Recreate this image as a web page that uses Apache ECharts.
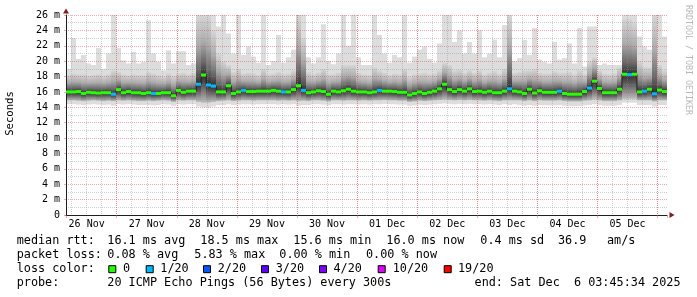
<!DOCTYPE html>
<html><head><meta charset="utf-8">
<script src="https://cdn.jsdelivr.net/npm/echarts@6/dist/echarts.min.js"></script>
<style>html,body{margin:0;padding:0;background:#fff}#c{width:697px;height:297px}</style>
</head><body><div id="c"></div>
<script>
// ---- data (2-hour buckets from 26 Nov 03:45 to 6 Dec 03:45), values in ms ----
const dayLabels = ['26 Nov','27 Nov','28 Nov','29 Nov','30 Nov','01 Dec','02 Dec','03 Dec','04 Dec','05 Dec'];
const startHour = 3.75;   // hours after 26 Nov 00:00
const bucketHours = 2;

const median = [
 16.0,16.0,16.05,15.8,15.95,15.9,15.85,15.9,15.9,15.7,
 16.3,15.9,16.05,15.9,15.9,15.8,15.9,15.8,15.8,15.9,
 15.9,15.5,16.2,15.95,16.1,16.1,17.0,18.2,16.9,16.75,
 16.0,16.0,16.8,15.8,16.0,16.2,16.05,16.05,16.1,16.1,
 16.1,16.2,16.1,16.0,16.0,16.3,16.8,16.2,15.9,16.0,
 16.15,16.05,15.7,16.1,16.0,16.15,16.35,16.1,16.0,16.0,
 15.9,16.0,16.2,16.1,16.1,16.05,15.95,15.95,15.6,15.8,
 16.0,15.8,15.95,16.1,16.4,17.0,16.3,16.05,16.3,16.1,
 16.4,16.05,16.1,15.95,16.1,15.9,15.9,16.1,16.4,16.1,
 16.0,15.8,16.35,15.85,16.15,15.95,15.95,15.95,16.1,15.8,
 15.7,15.7,15.7,16.05,16.5,17.4,16.45,15.9,15.9,15.9,
 16.35,18.3,18.25,18.3,16.0,16.1,16.35,15.75,16.25,16.05];
const loss = [ // lost pings out of 20
 0,0,0,0,0,0,0,0,0,1, 0,0,0,0,0,0,0,1,0,0, 0,0,0,0,0,0,1,0,1,1,
 0,0,0,0,0,1,0,0,0,0, 0,0,0,1,0,0,0,1,0,0, 0,0,0,0,0,0,0,0,0,0,
 0,0,1,0,0,0,0,0,0,0, 0,0,0,0,0,0,0,0,0,0, 0,0,0,0,0,0,0,0,1,0,
 0,0,0,0,0,0,0,0,1,0, 0,0,0,0,1,0,0,0,0,0, 0,0,1,0,0,1,0,1,0,0];
const pingMax = [
 19.0,23.0,20.3,20.8,19.7,19.5,21.7,19.0,21.0,26.0,
 21.7,20.1,19.7,21.2,19.7,19.9,25.3,21.0,19.9,18.8,
 21.4,19.7,21.3,21.3,19.5,19.7,26,26,26,26,
 24.5,26,23.6,21.0,26,20.8,21.9,20.6,19.8,26,
 19.5,20.0,23.4,19.8,20.5,21.5,26,26,20.5,19.7,
 20.5,24.8,20.0,19.6,21.0,26,22.0,26,20.5,19.5,
 19.5,26,23.4,21.0,19.8,20.8,20.5,26,19.8,20.6,
 21.5,21.9,20.3,19.8,22.3,26,26,22.5,24.0,21.0,
 22.5,21.0,24.0,20.5,21.0,22.8,20.5,24.7,26,20.0,
 20.4,22.75,20.8,24.3,20.2,19.9,19.7,22.5,20.2,20.4,
 22.3,19.7,24.3,19.3,24.5,24.5,19.5,19.7,19.5,19.5,
 19.5,26,26,26,23.2,21.9,21.5,26,26,23.2];
const upperMid = [
 18.2,18.4,18.3,18.3,18.1,18.2,18.3,18.1,18.3,18.8,
 18.6,18.3,18.2,18.3,18.2,18.2,18.6,18.4,18.2,18.0,
 18.4,18.1,18.4,18.5,18.3,18.5,26,26,26,24,
 21.0,20.0,19.5,18.6,19.0,18.4,18.5,18.4,18.2,19.0,
 18.3,18.4,18.6,18.3,18.4,18.8,26,23.0,18.6,18.3,
 18.5,19.0,18.3,18.3,18.5,19.5,19.5,19.5,18.5,18.3,
 18.2,19.2,18.8,18.5,18.2,18.4,18.3,19.0,18.0,18.3,
 18.4,18.5,18.3,18.4,18.8,19.8,19.5,18.8,18.9,18.5,
 18.8,18.5,18.8,18.3,18.5,18.7,18.4,19.0,26,18.5,
 18.6,18.8,18.8,19.0,18.5,18.4,18.4,18.7,18.5,18.5,
 18.6,18.3,18.8,18.3,20.0,20.5,18.8,18.4,18.3,18.4,
 19.2,25.5,25.5,25.0,20.0,19.3,19.2,26,19.5,18.8];
const lowerMid = [
 14.9,14.9,14.85,14.8,14.85,14.9,14.85,14.8,14.85,14.8,
 14.9,14.85,14.9,14.85,14.8,14.8,14.85,14.8,14.85,14.9,
 14.85,14.7,14.9,14.85,14.9,14.9,14.7,14.6,14.6,14.7,
 14.8,14.85,14.9,14.8,14.85,14.9,14.9,14.85,14.9,14.9,
 14.9,14.9,14.85,14.9,14.85,14.9,14.8,14.85,14.8,14.9,
 14.9,14.85,14.75,14.9,14.9,14.85,14.9,14.9,14.85,14.9,
 14.85,14.9,14.9,14.95,14.9,14.9,14.85,14.85,14.7,14.75,
 14.85,14.8,14.85,14.9,14.95,15.0,14.95,14.9,14.95,14.9,
 14.95,14.9,14.9,14.85,14.9,14.85,14.8,14.9,14.9,14.9,
 14.9,14.8,14.9,14.8,14.9,14.85,14.85,14.85,14.9,14.8,
 14.75,14.75,14.75,14.85,14.9,15.0,14.9,14.8,14.8,14.8,
 14.9,15.1,15.1,15.1,14.9,14.9,14.9,14.75,14.9,14.9];
const pingMin = [
 14.4,14.4,14.35,14.3,14.35,14.4,14.35,14.3,14.35,14.2,
 14.4,14.35,14.4,14.35,14.3,14.3,14.3,14.25,14.3,14.4,
 14.35,14.2,14.4,14.35,14.4,14.4,14.1,14.0,14.0,14.1,
 14.3,14.3,14.4,14.3,14.35,14.4,14.4,14.35,14.4,14.4,
 14.4,14.4,14.35,14.4,14.35,14.4,14.2,14.3,14.3,14.4,
 14.4,14.35,14.25,14.4,14.4,14.35,14.4,14.4,14.35,14.4,
 14.35,14.4,14.4,14.45,14.4,14.4,14.35,14.35,14.2,14.25,
 14.35,14.3,14.35,14.4,14.45,14.5,14.45,14.4,14.45,14.4,
 14.45,14.4,14.4,14.35,14.4,14.35,14.3,14.4,14.3,14.4,
 14.3,14.2,14.3,14.2,14.3,14.25,14.25,14.25,14.3,14.2,
 14.15,14.15,14.15,14.25,14.3,14.4,14.3,14.2,14.2,14.2,
 14.3,14.6,14.6,14.6,14.3,14.3,14.3,14.1,14.3,14.3];

const lossLevels = [0,1,2,3,4,10,19];
const lossLabels = ['0','1/20','2/20','3/20','4/20','10/20','19/20'];
const lossColors = ['#26ff00','#00b8ff','#0059ff','#5e00ff','#7e00ff','#dd00ff','#ff0000'];
const rttLabel = 'median rtt:';
const rttStats = ['16.1 ms avg','18.5 ms max','15.6 ms min','16.0 ms now','0.4 ms sd','36.9','am/s'];
const lossLabel = 'packet loss:';
const lossStats = ['0.08 % avg','5.83 % max','0.00 % min','0.00 % now'];
const probeLabel = 'probe:';
const probeText = '20 ICMP Echo Pings (56 Bytes) every 300s';
const endText = 'end: Sat Dec  6 03:45:34 2025';

// ---- layout ----
const MONO = 'DejaVu Sans Mono';
const legendFont = 11.8;
const rowY = [241.3, 254.8, 269.2, 282.7];
const colX0 = 16.7;
const rttX = [107.3, 200.3, 293.3, 386.3, 480.3, 558, 607];
const lossX = [107.3, 194.3, 279.3, 366];
const boxX = [108.3, 145.7, 203, 261, 319, 377.7, 443.7];
const boxTextX = [123, 160.3, 217.7, 275.7, 333.5, 392.7, 458];
const GRID = 'rgba(143,143,143,0.42)';
const MGRID = 'rgba(222,79,79,0.48)';
const ARROW = '#801f1f';
const AXIS = '#1f1f1f';

function lossColor(n){
  let c = lossColors[0];
  for (let k = 0; k < lossLevels.length; k++) if (n >= lossLevels[k]) c = lossColors[k];
  return c;
}

const xMin = startHour, xMax = startHour + median.length * bucketHours;
const smokeData = median.map((m, i) => [startHour + i*bucketHours, startHour + (i+1)*bucketHours, pingMin[i], lowerMid[i], m, upperMid[i], pingMax[i]]);
const medData = median.map((m, i) => [startHour + i*bucketHours, startHour + (i+1)*bucketHours, m, loss[i]]);
const medLine = median.map((m, i) => [startHour + (i+0.5)*bucketHours, m]);

const upGrad = {type:'linear', x:0, y:0, x2:0, y2:1, colorStops:[
  {offset:0, color:'#d6d6d6'},{offset:0.45, color:'#ababab'},{offset:0.8, color:'#666666'},{offset:1, color:'#2e2e2e'}]};
const loGrad = {type:'linear', x:0, y:0, x2:0, y2:1, colorStops:[
  {offset:0, color:'#2e2e2e'},{offset:0.4, color:'#5e5e5e'},{offset:1, color:'#bcbcbc'}]};

function renderSmoke(params, api){
  const l = Math.round(api.coord([api.value(0), 0])[0]);
  const r = Math.round(api.coord([api.value(1), 0])[0]);
  const y = v => api.coord([api.value(0), v])[1];
  const pMin = y(api.value(2)), lMid = y(api.value(3)), med = y(api.value(4)), uMid = y(api.value(5)), pMax = y(api.value(6));
  return {type:'group', children:[
    {type:'rect', shape:{x:l, y:pMax, width:r-l, height:pMin-pMax}, style:{fill:'#dddddd'}},
    {type:'rect', shape:{x:l, y:uMid, width:r-l, height:med-uMid}, style:{fill:upGrad}},
    {type:'rect', shape:{x:l, y:med, width:r-l, height:lMid-med}, style:{fill:loGrad}}
  ]};
}
function renderMedian(params, api){
  const l = Math.round(api.coord([api.value(0), 0])[0]);
  const r = Math.round(api.coord([api.value(1), 0])[0]);
  const yc = api.coord([api.value(0), api.value(2)])[1];
  return {type:'rect', shape:{x:l, y:yc-1.5, width:r-l, height:3}, style:{fill:lossColor(api.value(3))}};
}

const graphic = [];
function txt(s, x, y, extra){ graphic.push(Object.assign({type:'text', x:x, y:y, silent:true,
  style:{text:s, fontFamily:MONO, fontSize:legendFont, fill:'#000', textAlign:'left', textVerticalAlign:'middle'}}, extra||{})); }
txt(rttLabel, colX0, rowY[0]);
rttStats.forEach((s,k)=>txt(s, rttX[k], rowY[0]));
txt(lossLabel, colX0, rowY[1]);
lossStats.forEach((s,k)=>txt(s, lossX[k], rowY[1]));
txt('loss color:', colX0, rowY[2]);
lossLabels.forEach((s,k)=>{
  graphic.push({type:'rect', silent:true, shape:{x:boxX[k]+0.5, y:rowY[2]-3.5, width:7, height:7},
    style:{fill:lossColors[k], stroke:'#000', lineWidth:1}});
  txt(s, boxTextX[k], rowY[2]);
});
txt(probeLabel, colX0, rowY[3]);
txt(probeText, 107.3, rowY[3]);
graphic.push({type:'text', x:680.5, y:rowY[3], silent:true,
  style:{text:endText, fontFamily:MONO, fontSize:legendFont, fill:'#000', textAlign:'right', textVerticalAlign:'middle'}});
graphic.push({type:'text', x:10.5, y:113.5, rotation:Math.PI/2, silent:true,
  style:{text:'Seconds', fontFamily:MONO, fontSize:10.6, fill:'#000', textAlign:'center', textVerticalAlign:'middle'}});
graphic.push({type:'text', x:688.3, y:5, rotation:-Math.PI/2, silent:true,
  style:{text:'RRDTOOL / TOBI OETIKER', fontFamily:MONO, fontSize:8.3, fill:'#b8b8b8', textAlign:'left', textVerticalAlign:'middle'}});

const chart = echarts.init(document.getElementById('c'), null, {renderer:'canvas'});
chart.setOption({
  animation:false,
  backgroundColor:'#ffffff',
  grid:{left:66, top:15, width:601, height:200, containLabel:false},
  xAxis:[
    {type:'value', min:xMin, max:xMax, minInterval:6, maxInterval:6, position:'bottom', z:3,
     axisLine:{show:false}, axisTick:{show:false}, axisLabel:{show:false},
     splitLine:{show:true, showMinLine:false, showMaxLine:false, lineStyle:{color:GRID, width:1, type:[1,1]}}},
    {type:'value', min:xMin, max:xMax, minInterval:24, maxInterval:24, position:'bottom', z:3,
     axisLine:{show:true, onZero:false, lineStyle:{color:AXIS, width:1}},
     axisTick:{show:true, length:3, lineStyle:{color:MGRID}}, axisLabel:{show:false},
     splitLine:{show:true, showMinLine:false, showMaxLine:false, lineStyle:{color:MGRID, width:1, type:[1,1]}}},
    {type:'value', min:xMin-12, max:xMax-12, minInterval:24, maxInterval:24, position:'bottom', z:3,
     axisLine:{show:false, onZero:false}, axisTick:{show:false}, splitLine:{show:false},
     axisLabel:{show:true, margin:4, fontFamily:MONO, fontSize:10, color:'#000', showMinLabel:false, showMaxLabel:false,
       formatter:v => (Math.abs(v % 24) < 1e-6 && dayLabels[Math.round(v/24)]) ? dayLabels[Math.round(v/24)] : ''}},
    {type:'value', min:xMin, max:xMax, position:'bottom', z:4,
     axisLine:{show:true, onZero:false, symbol:['none','triangle'], symbolSize:[6,5], symbolOffset:[0,5], lineStyle:{color:ARROW, width:0}},
     axisTick:{show:false}, axisLabel:{show:false}, splitLine:{show:false}}
  ],
  yAxis:[
    {type:'value', min:0, max:26, interval:2, position:'left', z:3,
     axisLine:{show:true, onZero:false, lineStyle:{color:AXIS, width:1}},
     axisTick:{show:true, length:2, lineStyle:{color:MGRID}},
     axisLabel:{margin:6, fontFamily:MONO, fontSize:10, color:'#000', formatter:v => v === 0 ? '0' : v + ' m'},
     splitLine:{show:true, showMinLine:false, lineStyle:{color:MGRID, width:1, type:[1,1]}},
     minorTick:{show:false, splitNumber:2},
     minorSplitLine:{show:true, lineStyle:{color:GRID, width:1, type:[1,1]}}},
    {type:'value', min:0, max:26, position:'left', z:4,
     axisLine:{show:true, onZero:false, symbol:['none','triangle'], symbolSize:[6,5], symbolOffset:[0,4], lineStyle:{color:ARROW, width:0}},
     axisTick:{show:false}, axisLabel:{show:false}, splitLine:{show:false}}
  ],
  series:[
    {type:'custom', name:'smoke', xAxisIndex:0, yAxisIndex:0, z:1, silent:true,
     renderItem:renderSmoke, encode:{x:[0,1], y:[2,3,4,5,6]}, data:smokeData},
    {type:'line', name:'median', xAxisIndex:0, yAxisIndex:0, z:5, silent:true, step:'middle', symbol:'none',
     lineStyle:{color:'#202020', width:1}, data:medLine},
    {type:'custom', name:'loss', xAxisIndex:0, yAxisIndex:0, z:6, silent:true,
     renderItem:renderMedian, encode:{x:[0,1], y:2}, data:medData}
  ],
  graphic:graphic
});
</script>
</body></html>
